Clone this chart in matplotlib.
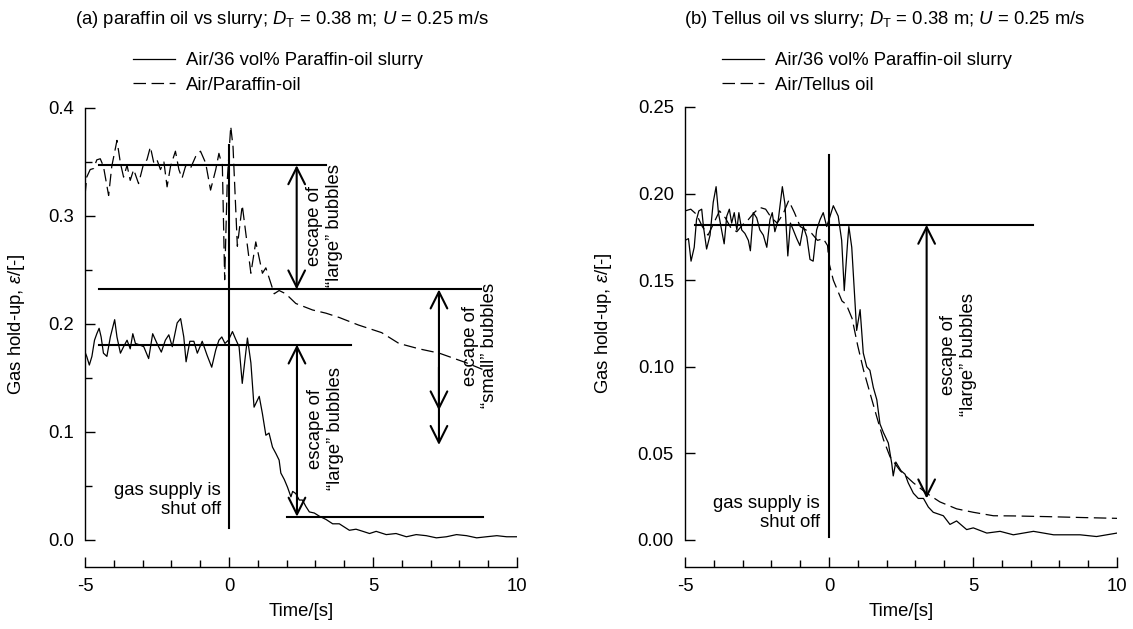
import matplotlib

matplotlib.use("Agg")
import matplotlib.pyplot as plt
from matplotlib.lines import Line2D
from matplotlib.ticker import FormatStrFormatter, MultipleLocator

plt.rcParams["font.family"] = ["Liberation Sans", "DejaVu Sans"]
plt.rcParams["mathtext.fontset"] = "custom"
plt.rcParams["mathtext.rm"] = "Liberation Sans"
plt.rcParams["mathtext.it"] = "Liberation Sans:italic"
plt.rcParams["mathtext.bf"] = "Liberation Sans:bold"
plt.rcParams["axes.unicode_minus"] = False
plt.rcParams["lines.scale_dashes"] = False

FS = 13.3

# ---- (a) paraffin oil vs slurry ----
slurry_a_t = [-5.0, -4.94, -4.85, -4.76, -4.67, -4.59, -4.51, -4.44, -4.36, -4.24,
              -4.12, -3.97, -3.89, -3.77, -3.66, -3.54, -3.43, -3.34, -3.25, -3.14,
              -2.96, -2.79, -2.65, -2.50, -2.35, -2.21, -2.09, -1.97, -1.80, -1.68,
              -1.57, -1.49, -1.36, -1.22, -1.10, -0.93, -0.76, -0.60, -0.46, -0.35,
              -0.25, -0.14, -0.02, 0.12, 0.23, 0.35, 0.46, 0.64, 0.76, 0.87,
              1.05, 1.16, 1.28, 1.39, 1.51, 1.63, 1.74, 1.80, 1.92, 2.03,
              2.15, 2.21, 2.32, 2.44, 2.55, 2.67, 2.79, 2.96, 3.14, 3.37,
              3.60, 3.83, 4.18, 4.41, 4.65, 4.88, 5.11, 5.46, 5.8, 6.16,
              6.5, 6.85, 7.2, 7.55, 7.9, 8.25, 8.6, 8.94, 9.3, 9.64, 10.0]
slurry_a_v = [0.174, 0.170, 0.162, 0.170, 0.185, 0.191, 0.196, 0.188, 0.173, 0.170,
              0.188, 0.204, 0.188, 0.173, 0.179, 0.185, 0.177, 0.191, 0.182, 0.181,
              0.179, 0.168, 0.191, 0.182, 0.174, 0.185, 0.190, 0.179, 0.201, 0.205,
              0.188, 0.165, 0.184, 0.184, 0.173, 0.184, 0.171, 0.160, 0.176, 0.185,
              0.188, 0.182, 0.185, 0.193, 0.186, 0.179, 0.145, 0.187, 0.164, 0.123,
              0.133, 0.117, 0.097, 0.099, 0.086, 0.080, 0.074, 0.062, 0.056, 0.049,
              0.040, 0.045, 0.043, 0.037, 0.037, 0.031, 0.026, 0.025, 0.022, 0.019,
              0.015, 0.015, 0.009, 0.010, 0.008, 0.006, 0.008, 0.005, 0.006, 0.003,
              0.005, 0.004, 0.002, 0.003, 0.005, 0.004, 0.002, 0.003, 0.004, 0.003, 0.003]

paraffin_t = [-5.0, -4.94, -4.82, -4.70, -4.59, -4.47, -4.36, -4.18, -4.07, -3.89,
              -3.77, -3.66, -3.54, -3.43, -3.31, -3.14, -2.96, -2.85, -2.73, -2.61,
              -2.50, -2.38, -2.26, -2.15, -2.03, -1.86, -1.74, -1.63, -1.51, -1.34,
              -1.16, -0.99, -0.81, -0.64, -0.46, -0.35, -0.23, -0.15, -0.06, 0.06,
              0.14, 0.29, 0.46, 0.76, 0.93, 1.16, 1.28, 1.57, 1.74, 1.97,
              2.32, 2.9, 3.37, 3.83, 4.5, 5.3, 5.9, 6.6, 7.3, 8.25, 8.8]
paraffin_v = [0.319, 0.336, 0.343, 0.344, 0.352, 0.353, 0.346, 0.319, 0.346, 0.370,
              0.349, 0.336, 0.347, 0.333, 0.343, 0.330, 0.349, 0.352, 0.364, 0.349,
              0.352, 0.343, 0.350, 0.327, 0.346, 0.360, 0.343, 0.335, 0.346, 0.344,
              0.355, 0.360, 0.349, 0.324, 0.343, 0.358, 0.346, 0.241, 0.333, 0.383,
              0.364, 0.272, 0.310, 0.247, 0.276, 0.247, 0.252, 0.228, 0.231, 0.228,
              0.219, 0.213, 0.210, 0.206, 0.199, 0.192, 0.182, 0.177, 0.173, 0.164, 0.158]

# ---- (b) Tellus oil vs slurry ----
slurry_b_t = [-5.0, -4.88, -4.79, -4.68, -4.60, -4.52, -4.42, -4.36, -4.25, -4.13,
              -4.02, -3.92, -3.84, -3.73, -3.64, -3.55, -3.46, -3.38, -3.29, -3.20,
              -3.13, -3.03, -2.92, -2.80, -2.73, -2.63, -2.51, -2.40, -2.28, -2.16,
              -2.05, -1.97, -1.88, -1.76, -1.62, -1.53, -1.43, -1.34, -1.24, -1.12,
              -1.01, -0.89, -0.77, -0.66, -0.55, -0.43, -0.31, -0.20, -0.08, 0.0,
              0.15, 0.32, 0.44, 0.53, 0.65, 0.69, 0.79, 0.90, 0.96, 1.08,
              1.19, 1.31, 1.42, 1.54, 1.66, 1.77, 1.89, 2.06, 2.18, 2.23,
              2.32, 2.50, 2.64, 2.75, 2.93, 3.10, 3.28, 3.45, 3.62, 3.97,
              4.20, 4.43, 4.78, 5.01, 5.48, 5.94, 6.40, 7.10, 7.80, 8.72, 9.29, 10.0]
slurry_b_v = [0.173, 0.174, 0.161, 0.169, 0.185, 0.190, 0.191, 0.181, 0.168, 0.176,
              0.195, 0.204, 0.189, 0.179, 0.171, 0.187, 0.191, 0.183, 0.189, 0.179,
              0.189, 0.179, 0.177, 0.173, 0.167, 0.189, 0.186, 0.179, 0.176, 0.169,
              0.185, 0.189, 0.178, 0.185, 0.204, 0.194, 0.164, 0.183, 0.179, 0.174,
              0.170, 0.181, 0.175, 0.162, 0.161, 0.179, 0.185, 0.189, 0.181, 0.185,
              0.193, 0.187, 0.173, 0.144, 0.173, 0.181, 0.169, 0.138, 0.121, 0.133,
              0.108, 0.100, 0.098, 0.088, 0.081, 0.067, 0.062, 0.056, 0.044, 0.037,
              0.045, 0.040, 0.038, 0.033, 0.027, 0.024, 0.024, 0.019, 0.016, 0.014,
              0.009, 0.011, 0.006, 0.007, 0.004, 0.005, 0.003, 0.005, 0.003, 0.003, 0.002, 0.004]

tellus_t = [-5.0, -4.8, -4.6, -4.4, -4.2, -4.0, -3.8, -3.6, -3.4, -3.2,
            -3.0, -2.8, -2.6, -2.4, -2.2, -2.0, -1.8, -1.6, -1.4, -1.2,
            -1.0, -0.8, -0.6, -0.4, -0.2, -0.05, 0.0, 0.15, 0.3, 0.45,
            0.6, 0.8, 1.0, 1.2, 1.42, 1.66, 1.89, 2.12, 2.47, 2.93,
            3.39, 3.85, 4.43, 5.01, 5.71, 6.4, 7.56, 8.72, 10.0]
tellus_v = [0.190, 0.191, 0.188, 0.181, 0.176, 0.183, 0.190, 0.186, 0.180, 0.178,
            0.182, 0.185, 0.189, 0.192, 0.191, 0.186, 0.183, 0.188, 0.196, 0.189,
            0.181, 0.179, 0.177, 0.173, 0.174, 0.170, 0.160, 0.150, 0.144, 0.138,
            0.136, 0.128, 0.112, 0.098, 0.085, 0.071, 0.058, 0.048, 0.040, 0.033,
            0.027, 0.022, 0.018, 0.016, 0.014, 0.0139, 0.0135, 0.013, 0.0125]

# guide lines: (level, t_start, t_end)
hlines_a = [(0.347, -4.53, 3.37), (0.232, -4.53, 8.75), (0.181, -4.53, 4.24), (0.0216, 2.03, 8.83)]
vline_a = (0.0, 0.011, 0.366)
hlines_b = [(0.182, -4.65, 7.1)]
vline_b = (0.0, 0.002, 0.222)

legend_labels_a = ["Air/36 vol% Paraffin-oil slurry", "Air/Paraffin-oil"]
legend_labels_b = ["Air/36 vol% Paraffin-oil slurry", "Air/Tellus oil"]
titles = [r"(a) paraffin oil vs slurry; $D_\mathrm{T}$ = 0.38 m; $U$ = 0.25 m/s",
          r"(b) Tellus oil vs slurry; $D_\mathrm{T}$ = 0.38 m; $U$ = 0.25 m/s"]

W, H = 1133, 629
fig = plt.figure(figsize=(W / 100, H / 100), dpi=100)
ax1 = fig.add_axes([85 / W, 1 - 540 / H, 432 / W, 432 / H])
ax2 = fig.add_axes([685 / W, 1 - 540 / H, 432 / W, 433 / H])

DASH = (9, 4)
LW = 0.9
GLW = 1.5
arrow_kw = dict(arrowstyle="<->", mutation_scale=30, lw=GLW, color="black",
                shrinkA=0, shrinkB=0)


def style_axis(ax, ymax, ymajor, yminor, yfmt):
    ax.set_xlim(-5, 10)
    ax.set_ylim(0, ymax)
    for side in ("top", "right"):
        ax.spines[side].set_visible(False)
    ax.spines["bottom"].set_position(("outward", 19.4))
    for side in ("left", "bottom"):
        ax.spines[side].set_linewidth(1.0)
    ax.xaxis.set_major_locator(MultipleLocator(5))
    ax.xaxis.set_minor_locator(MultipleLocator(1))
    ax.yaxis.set_major_locator(MultipleLocator(ymajor))
    if yminor:
        ax.yaxis.set_minor_locator(MultipleLocator(yminor))
    ax.yaxis.set_major_formatter(FormatStrFormatter(yfmt))
    ax.tick_params(which="both", direction="in", top=False, right=False, width=1.0,
                   labelsize=FS, pad=8)
    ax.tick_params(which="major", length=7)
    ax.tick_params(which="minor", length=5)
    ax.set_xlabel("Time/[s]", fontsize=FS)
    ax.set_ylabel(r"Gas hold-up, $\varepsilon$/[-]", fontsize=FS)
    ax.xaxis.set_label_coords(0.5, -0.145)


# panel (a)
ax1.plot(slurry_a_t, slurry_a_v, color="black", lw=LW)
ax1.plot(paraffin_t, paraffin_v, color="black", lw=LW, dashes=DASH)
for y, x0, x1 in hlines_a:
    ax1.plot([x0, x1], [y, y], color="black", lw=GLW)
ax1.plot([vline_a[0], vline_a[0]], vline_a[1:], color="black", lw=GLW)
ax1.annotate("", xy=(2.35, 0.232), xytext=(2.35, 0.347), arrowprops=arrow_kw)
ax1.annotate("", xy=(2.36, 0.0216), xytext=(2.36, 0.181), arrowprops=arrow_kw)
ax1.annotate("", xy=(7.29, 0.088), xytext=(7.29, 0.232), arrowprops=arrow_kw)
ax1.annotate("", xy=(7.29, 0.120), xytext=(7.29, 0.16),
             arrowprops=dict(arrow_kw, arrowstyle="->"))
ax1.text(3.31, 0.291, "escape of\n\u201clarge\u201d bubbles", rotation=90, fontsize=FS,
         ha="center", va="center", multialignment="center")
ax1.text(3.35, 0.103, "escape of\n\u201clarge\u201d bubbles", rotation=90, fontsize=FS,
         ha="center", va="center", multialignment="center")
ax1.text(8.71, 0.18, "escape of\n\u201csmall\u201d bubbles", rotation=90, fontsize=FS,
         ha="center", va="center", multialignment="center")
ax1.text(-0.28, 0.037, "gas supply is\nshut off", fontsize=FS, ha="right", va="center",
         multialignment="right")
style_axis(ax1, 0.4, 0.1, 0.05, "%.1f")
ax1.yaxis.set_label_coords(-0.135, 0.5)

# panel (b)
ax2.plot(slurry_b_t, slurry_b_v, color="black", lw=LW)
ax2.plot(tellus_t, tellus_v, color="black", lw=LW, dashes=DASH)
for y, x0, x1 in hlines_b:
    ax2.plot([x0, x1], [y, y], color="black", lw=GLW)
ax2.plot([vline_b[0], vline_b[0]], vline_b[1:], color="black", lw=GLW)
ax2.annotate("", xy=(3.39, 0.024), xytext=(3.39, 0.182), arrowprops=arrow_kw)
ax2.text(4.5, 0.107, "escape of\n\u201clarge\u201d bubbles", rotation=90, fontsize=FS,
         ha="center", va="center", multialignment="center")
ax2.text(-0.31, 0.0156, "gas supply is\nshut off", fontsize=FS, ha="right", va="center",
         multialignment="right")
style_axis(ax2, 0.25, 0.05, None, "%.2f")
ax2.yaxis.set_label_coords(-0.164, 0.5)

# legends and titles
for ax, labels, x_leg, x_title, title in [
    (ax1, legend_labels_a, 133, 282, titles[0]),
    (ax2, legend_labels_b, 722, 885, titles[1]),
]:
    handles = [Line2D([], [], color="black", lw=LW),
               Line2D([], [], color="black", lw=LW, dashes=DASH)]
    ax.legend(handles, labels, loc="upper left", bbox_to_anchor=(x_leg / W, 1 - 52 / H),
              bbox_transform=fig.transFigure, frameon=False, borderpad=0,
              borderaxespad=0, handlelength=2.3, handletextpad=0.55,
              labelspacing=0.42, fontsize=FS)
    fig.text(x_title / W, 1 - 19 / H, title, fontsize=FS, ha="center", va="center")

fig.savefig("out.png", dpi=100)
